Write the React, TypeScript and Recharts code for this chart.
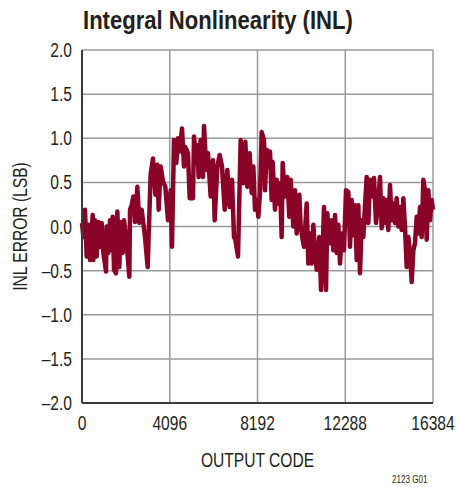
import { LineChart, Line, XAxis, YAxis, CartesianGrid } from "recharts";

// output code positions and INL error (LSB)
const codes = [
  0, 63, 140, 218, 296, 374, 498, 529, 607, 685, 763, 841, 918, 996, 1121, 1152, 1230, 1307, 1385, 1432,
  1494, 1587, 1650, 1743, 1805, 1899, 1961, 2085, 2210, 2241, 2319, 2397, 2474, 2583, 2677, 2786, 2941, 3066,
  3175, 3206, 3314, 3423, 3516, 3579, 3672, 3781, 3890, 4014, 4139, 4201, 4294, 4403, 4481, 4559, 4668, 4761,
  4823, 4948, 5026, 5181, 5228, 5337, 5383, 5446, 5539, 5648, 5695, 5804, 5881, 6006, 6115, 6193, 6317, 6426,
  6535, 6659, 6784, 6893, 7002, 7095, 7157, 7282, 7406, 7515, 7624, 7717, 7826, 7920, 7998, 8075, 8153, 8231,
  8309, 8387, 8496, 8542, 8620, 8698, 8776, 8853, 8900, 9009, 9087, 9165, 9242, 9320, 9367, 9476, 9585, 9678,
  9740, 9865, 9943, 10020, 10145, 10207, 10300, 10363, 10487, 10565, 10643, 10721, 10798, 10876, 10954, 11078,
  11156, 11234, 11296, 11390, 11452, 11545, 11654, 11732, 11810, 11888, 11965, 12043, 12121, 12230, 12323,
  12432, 12510, 12588, 12666, 12743, 12821, 12899, 12977, 13055, 13132, 13210, 13288, 13366, 13444, 13568,
  13630, 13724, 13833, 13910, 13988, 14066, 14144, 14222, 14299, 14377, 14455, 14533, 14611, 14688, 14766,
  14844, 14922, 15000, 15077, 15155, 15233, 15311, 15389, 15466, 15544, 15622, 15700, 15778, 15855, 15933,
  16011, 16089, 16167, 16244, 16322, 16384,
];

const inlError = [
  0.04, -0.12, 0.19, -0.34, 0.02, -0.38, 0.13, -0.38, 0.07, -0.34, 0.05, -0.23, 0.04, -0.3, -0.51, 0.0, -0.3, 0.07, -0.27, 0.11,
  -0.49, -0.53, 0.17, -0.46, 0.05, -0.3, 0.07, -0.19, -0.57, 0.19, 0.24, 0.34, 0.05, 0.45, 0.04, 0.19, -0.12, -0.46,
  0.38, 0.6, 0.77, 0.36, 0.7, 0.19, 0.68, 0.51, 0.45, 0.07, 0.41, -0.23, 0.98, 0.72, 1.0, 0.85, 1.11, 0.68,
  0.9, 0.83, 0.32, 0.32, 1.02, 0.72, 0.92, 0.56, 0.98, 0.56, 1.14, 0.64, 0.83, 0.34, 0.75, 0.07, 0.68, 0.81,
  0.68, 0.19, 0.64, 0.22, 0.53, -0.12, -0.15, -0.34, 0.98, 0.49, 0.96, 0.45, 0.83, 0.38, 0.68, 0.19, 0.3, 0.11,
  0.38, 1.07, 0.98, 0.41, 0.87, 0.68, 0.85, 0.3, 0.73, 0.19, 0.53, 0.26, 0.49, -0.12, 0.72, 0.34, 0.56, 0.11,
  0.53, 0.0, 0.41, -0.08, 0.36, 0.0, -0.15, -0.23, 0.26, -0.42, -0.08, -0.42, 0.02, -0.27, -0.49, -0.12,
  -0.72, -0.27, 0.22, -0.72, 0.15, -0.19, 0.07, -0.27, 0.13, -0.3, 0.02, -0.42, -0.08, -0.27, 0.41,
  0.39, -0.23, 0.3, -0.1, 0.24, -0.38, 0.24, -0.53, 0.07, -0.12, 0.24, 0.56, 0.04, 0.53, 0.34,
  0.55, 0.04, 0.3, 0.56, -0.02, 0.32, 0.04, 0.3, -0.04, 0.47, 0.07, 0.26, 0.04, 0.32, 0.0,
  0.22, -0.04, 0.32, 0.0, -0.46, -0.12, -0.3, -0.63, -0.27, -0.19, 0.11, -0.08, 0.22, -0.12, 0.53,
  0.41, -0.15, 0.41, 0.07, 0.3, 0.19,
];

const xTicks = [0, 4096, 8192, 12288, 16384];
const yTicks = [-2, -1.5, -1, -0.5, 0, 0.5, 1, 1.5, 2];

const data = codes.map((code, i) => ({ code, inl: inlError[i] }));

// no condensed font installed, so squeeze Liberation Sans horizontally
const FONT = "'Liberation Sans', Arial, sans-serif";
const SQUEEZE = 0.8;
const INK = "#231f20";
const fmtY = (v: number) => (v < 0 ? "\u2013" + Math.abs(v).toFixed(1) : v.toFixed(1));

const XTick = ({ x, y, payload }: any) => (
  <g transform={`translate(${x},${y + 19})`}>
    <text transform={`scale(${SQUEEZE},1)`} textAnchor="middle" fontSize={19.5} fill={INK} fontFamily={FONT}>
      {payload.value}
    </text>
  </g>
);

const YTick = ({ x, y, payload }: any) => (
  <g transform={`translate(${x},${y + 7})`}>
    <text transform={`scale(${SQUEEZE},1)`} textAnchor="end" fontSize={19.5} fill={INK} fontFamily={FONT}>
      {fmtY(payload.value)}
    </text>
  </g>
);

const XLabel = ({ viewBox }: any) => (
  <g transform={`translate(${viewBox.x + viewBox.width / 2},${viewBox.y + 64})`}>
    <text transform={`scale(${SQUEEZE},1)`} textAnchor="middle" fontSize={19.5} fill={INK} fontFamily={FONT}>
      OUTPUT CODE
    </text>
  </g>
);

const YLabel = ({ viewBox }: any) => (
  <g transform={`translate(27,${viewBox.y + viewBox.height / 2}) rotate(-90)`}>
    <text transform={`scale(${SQUEEZE},1)`} textAnchor="middle" fontSize={19.5} fill={INK} fontFamily={FONT}>
      INL ERROR (LSB)
    </text>
  </g>
);

export default function App() {
  return (
    <div style={{ position: "relative", width: 457, height: 487, fontFamily: FONT, color: INK }}>
      <style>{"body{margin:0}"}</style>
      <div
        style={{
          position: "absolute", left: 83, top: 7, fontSize: 26.5, lineHeight: "26px", fontWeight: 700,
          whiteSpace: "nowrap", transform: "scaleX(0.833)", transformOrigin: "0 0",
        }}
      >
        Integral Nonlinearity (INL)
      </div>
      <LineChart width={457} height={487} data={data} margin={{ top: 50, right: 24, bottom: 20, left: 0 }}>
        <CartesianGrid stroke="#9a9a9a" strokeWidth={1.5} />
        <XAxis
          dataKey="code"
          type="number"
          domain={[0, 16384]}
          ticks={xTicks}
          interval={0}
          height={64}
          tickLine={false}
          axisLine={{ stroke: "#3a3a3a", strokeWidth: 2 }}
          tick={<XTick />}
          label={<XLabel />}
        />
        <XAxis xAxisId="top" dataKey="code" type="number" domain={[0, 16384]} orientation="top" height={0} tick={false} tickLine={false} axisLine={{ stroke: "#3a3a3a", strokeWidth: 2 }} />
        <YAxis
          type="number"
          domain={[-2, 2]}
          ticks={yTicks}
          interval={0}
          width={82}
          tickLine={false}
          tickSize={0}
          tickMargin={10}
          axisLine={{ stroke: "#3a3a3a", strokeWidth: 2 }}
          tick={<YTick />}
          label={<YLabel />}
        />
        <YAxis yAxisId="right" type="number" domain={[-2, 2]} orientation="right" width={0} tick={false} tickLine={false} axisLine={{ stroke: "#3a3a3a", strokeWidth: 2 }} />
        <Line
          dataKey="inl"
          type="linear"
          stroke="#8a0427"
          strokeWidth={4.5}
          strokeLinejoin="round"
          dot={false}
          isAnimationActive={false}
        />
      </LineChart>
      <div
        style={{
          position: "absolute", left: 392, top: 473, fontSize: 11.5, lineHeight: "12px", whiteSpace: "nowrap",
          transform: "scaleX(0.7)", transformOrigin: "0 0",
        }}
      >
        2123 G01
      </div>
    </div>
  );
}
